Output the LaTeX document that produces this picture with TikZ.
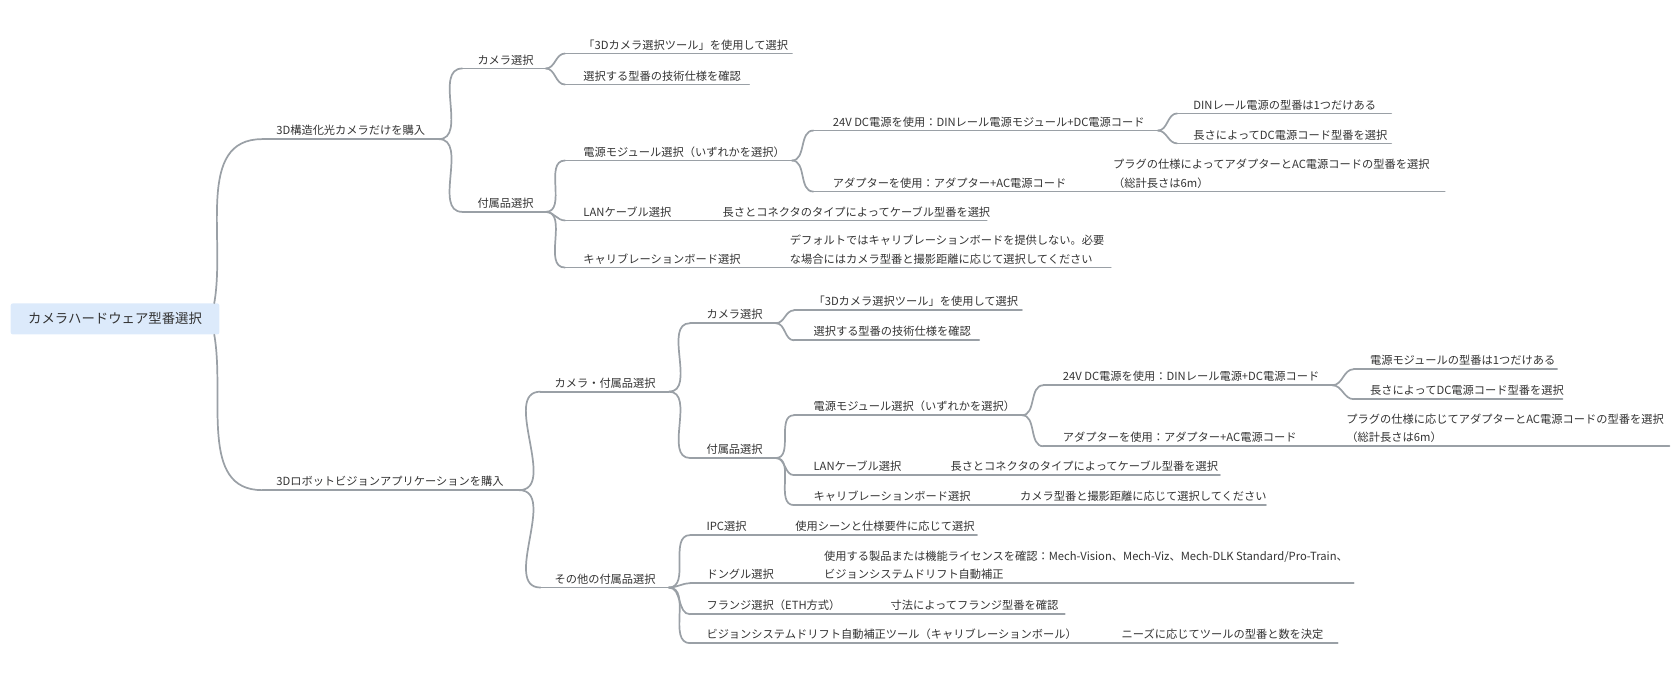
\documentclass[tikz,border=0pt]{standalone}
\usepackage{fontspec}
\setmainfont{Noto Sans CJK JP}
\definecolor{ln}{HTML}{9AA0A6}
\definecolor{tx}{HTML}{333333}
\definecolor{rootfill}{HTML}{DCEAFB}
\tikzset{
  lbl/.style={anchor=south west,inner sep=0pt,text=tx,font=\fontsize{10.5}{17}\selectfont,align=left},
  uline/.style={draw=ln,line width=1.6pt,line cap=round},
  conn/.style={draw=ln,line width=1.6pt,line cap=round},
}
% \tp{name}{x0}{x1}{y}{textx}{text}
\newcommand{\tp}[6]{%
  \coordinate (#1-s) at (#2,#4);
  \coordinate (#1-e) at (#3,#4);
  \node[lbl] (#1) at (#5,#4-3) {#6};
  \draw[uline] (#1-s) -- (#1-e);}
\newcommand{\cn}[2]{\draw[conn] (#1-e) to[out=0,in=180] (#2-s);}
\begin{document}
\begin{tikzpicture}[x=1pt,y=-1pt]
\useasboundingbox (0,0) rectangle (1568,640);
\node[fill=rootfill,rounded corners=2pt,minimum width=195pt,minimum height=29pt,inner sep=0pt,text=tx,font=\fontsize{12.5}{15}\selectfont] (root) at (107.5,298) {カメラハードウェア型番選択};

% Branch A
\tp{A}{245}{410}{130}{258}{3D構造化光カメラだけを購入}
\tp{A1}{432}{510}{64}{446}{カメラ選択}
\tp{A1a}{528}{740}{50}{545}{「3Dカメラ選択ツール」を使用して選択}
\tp{A1b}{528}{700}{79}{545}{選択する型番の技術仕様を確認}
\tp{A2}{432}{510}{198}{446}{付属品選択}
\tp{A2a}{528}{740}{150}{545}{電源モジュール選択（いずれかを選択）}
\tp{A2a1}{760}{1082}{122}{778}{24V DC電源を使用：DINレール電源モジュール+DC電源コード}
\tp{A2a1a}{1100}{1300}{106}{1115}{DINレール電源の型番は1つだけある}
\tp{A2a1b}{1100}{1300}{134}{1115}{長さによってDC電源コード型番を選択}
\tp{A2a2}{760}{1040}{179}{778}{アダプターを使用：アダプター+AC電源コード}
\tp{A2a2a}{1040}{1350}{179}{1040}{プラグの仕様によってアダプターとAC電源コードの型番を選択\\（総計長さは6m）}
\tp{A2b}{528}{660}{206}{545}{LANケーブル選択}
\tp{A2ba}{660}{922}{206}{675}{長さとコネクタのタイプによってケーブル型番を選択}
\tp{A2c}{528}{725}{250}{545}{キャリブレーションボード選択}
\tp{A2ca}{725}{1038}{250}{738}{デフォルトではキャリブレーションボードを提供しない。必要\\な場合にはカメラ型番と撮影距離に応じて選択してください}

% Branch B
\tp{B}{245}{485}{458}{258}{3Dロボットビジョンアプリケーションを購入}
\tp{B1}{505}{625}{366}{518}{カメラ・付属品選択}
\tp{B1a}{645}{725}{302}{660}{カメラ選択}
\tp{B1a1}{742}{955}{290}{760}{「3Dカメラ選択ツール」を使用して選択}
\tp{B1a2}{742}{915}{318}{760}{選択する型番の技術仕様を確認}
\tp{B1b}{645}{725}{428}{660}{付属品選択}
\tp{B1b1}{742}{955}{388}{760}{電源モジュール選択（いずれかを選択）}
\tp{B1b1a}{975}{1245}{360}{993}{24V DC電源を使用：DINレール電源+DC電源コード}
\tp{B1b1a1}{1265}{1455}{345}{1280}{電源モジュールの型番は1つだけある}
\tp{B1b1a2}{1265}{1460}{373}{1280}{長さによってDC電源コード型番を選択}
\tp{B1b1b}{975}{1240}{417}{993}{アダプターを使用：アダプター+AC電源コード}
\tp{B1b1b1}{1240}{1560}{417}{1258}{プラグの仕様に応じてアダプターとAC電源コードの型番を選択\\（総計長さは6m）}
\tp{B1b2}{742}{870}{444}{760}{LANケーブル選択}
\tp{B1b2a}{870}{1140}{444}{888}{長さとコネクタのタイプによってケーブル型番を選択}
\tp{B1b3}{742}{935}{472}{760}{キャリブレーションボード選択}
\tp{B1b3a}{935}{1183}{472}{953}{カメラ型番と撮影距離に応じて選択してください}
\tp{B2}{505}{625}{549}{518}{その他の付属品選択}
\tp{B2a}{645}{725}{500}{660}{IPC選択}
\tp{B2aa}{725}{913}{500}{743}{使用シーンと仕様要件に応じて選択}
\tp{B2b}{645}{755}{545}{660}{ドングル選択}
\tp{B2ba}{755}{1265}{545}{770}{使用する製品または機能ライセンスを確認：Mech-Vision、Mech-Viz、Mech-DLK Standard/Pro-Train、\\ビジョンシステムドリフト自動補正}
\tp{B2c}{645}{820}{574}{660}{フランジ選択（ETH方式）}
\tp{B2ca}{820}{995}{574}{832}{寸法によってフランジ型番を確認}
\tp{B2d}{645}{1030}{601}{660}{ビジョンシステムドリフト自動補正ツール（キャリブレーションボール）}
\tp{B2da}{1030}{1250}{601}{1048}{ニーズに応じてツールの型番と数を決定}

% connectors
\draw[conn] ([xshift=-5pt]root.north east) to[out=80,in=180] (A-s);
\draw[conn] ([xshift=-5pt]root.south east) to[out=-80,in=180] (B-s);
\cn{A}{A1}\cn{A}{A2}
\cn{A1}{A1a}\cn{A1}{A1b}
\cn{A2}{A2a}\cn{A2}{A2b}\cn{A2}{A2c}
\cn{A2a}{A2a1}\cn{A2a}{A2a2}
\cn{A2a1}{A2a1a}\cn{A2a1}{A2a1b}
\cn{B}{B1}\cn{B}{B2}
\cn{B1}{B1a}\cn{B1}{B1b}
\cn{B1a}{B1a1}\cn{B1a}{B1a2}
\cn{B1b}{B1b1}\cn{B1b}{B1b2}\cn{B1b}{B1b3}
\cn{B1b1}{B1b1a}\cn{B1b1}{B1b1b}
\cn{B1b1a}{B1b1a1}\cn{B1b1a}{B1b1a2}
\cn{B2}{B2a}\cn{B2}{B2b}\cn{B2}{B2c}\cn{B2}{B2d}
\end{tikzpicture}
\end{document}
